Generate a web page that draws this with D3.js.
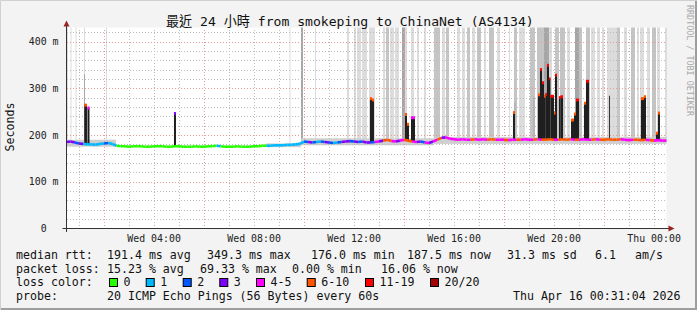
<!DOCTYPE html>
<html><head><meta charset="utf-8">
<script src="https://cdn.jsdelivr.net/npm/d3@7"></script>
<style>
html,body{margin:0;padding:0;background:#f3f3f3;}
svg{display:block;}
text{font-family:"DejaVu Sans Mono","Noto Sans CJK TC",monospace;white-space:pre;}
</style></head><body>
<svg id="c" width="697" height="310"></svg>
<script>
// ---- data (hours since Wed 00:00) ----
const startH = 0.517, endH = 24.517;          // Wed 00:31 -> Thu 00:31
const sampleStepH = 1/6;                        // 10 min samples
const medianMs = [
 185,186,184,182,181,180,180,179,181,182,183,181,177,
 176,176,175,176,176,176,175,175,176,176,176,175,175,176,176,175,175,175,176,175,175,176,176,
 177,
 176,175,175,175,176,175,175,175,176,176,177,
 177,177,178,178,178,179,179,180,181,
 186,185,184,185,186,185,184,183,184,185,186,187,186,185,186,
 184,184,185,186,188,190,187,186,188,190,188,186,185,186,184,183,186,190,194,195,192,191,190,191,190,190,191,190,191,190,191,190,190,190,189,190,
 190,190,191,190,190,191,190,190,191,190,190,191,190,191,190,190,191,190,190,191,190,190,191,190,190,191,190,189,190,190,189,190,189,188,189,188,188];
const lossIdx = [
 3,3,2,3,1,1,1,1,1,2,1,1,0,
 0,0,0,0,0,0,0,0,0,0,0,0,0,0,0,0,0,0,0,0,0,0,0,
 1,
 0,0,0,0,0,0,0,0,0,0,0,
 1,1,1,1,1,1,1,1,1,
 2,3,2,1,2,3,2,1,2,3,3,2,3,2,3,
 3,2,4,3,5,5,4,3,4,5,5,4,3,2,4,3,4,5,3,4,4,4,4,4,4,5,4,4,4,5,5,4,4,5,4,4,
 5,4,4,4,5,4,5,5,5,4,5,5,5,4,5,4,4,4,5,4,5,5,5,5,5,4,4,4,5,5,5,4,5,4,4,4,4];
const lossLabels = ["0","1","2","3","4-5","6-10","11-19","20/20"];
const lossColors = ["#26ff00","#00b8ff","#0059ff","#7e00ff","#ff00ff","#ff5500","#ff0000","#a00000"];
// full-height smoke bands [fromH, toH, shade]
const smokeBands = [
 [0.536,0.576,0],[0.676,0.716,0],[0.876,0.916,0],[1.216,1.256,0],[2.096,2.136,0],
 [9.436,9.476,0],[9.896,9.976,2],[10.456,10.496,0],[11.736,11.816,0],[12.016,12.096,0],
 [12.136,12.296,0],[12.336,12.536,0],[12.616,12.856,0],[13.176,13.256,0],[13.296,13.416,1],
 [13.456,13.616,0],[13.656,13.816,0],[13.936,14.056,2],[14.056,14.136,0],[14.296,14.416,0],
 [14.536,14.616,0],[14.816,14.896,0],[15.216,15.456,1],[15.536,15.656,0],[15.696,15.816,1],
 [16.136,16.256,0],[16.336,16.456,0],[16.536,16.656,1],[16.736,16.856,0],[16.936,17.096,1],
 [17.216,17.296,0],[17.416,17.616,1],[17.736,17.856,0],[18.216,18.256,0],[18.416,18.536,1],
 [18.616,18.856,0],[19.056,19.256,1],[19.336,19.616,1],[19.616,19.816,2],[19.816,19.936,0],
 [20.056,20.216,1],[20.256,20.456,1],[20.536,20.656,0],[20.856,21.016,2],[21.016,21.136,1],
 [21.296,21.456,1],[21.496,21.656,0],[21.736,21.856,0],[21.936,22.016,0],[22.136,22.296,0],
 [22.296,22.536,0],[22.536,22.656,1],[22.816,22.936,0],[23.096,23.256,1],[23.336,23.416,0],
 [23.456,23.616,0],[23.736,23.856,0],[23.936,24.096,1],[24.136,24.256,0],[24.456,24.536,0]];
const smokeShades = ["#dcdcdc","#c4c4c4","#a6a6a6"];
// smoke spread around median [fromH, toH, lowMs, highMs]
const smokeSpread = [[0.517,2.5,175,190],[8.5,9.9,174,182],[9.9,15.2,178,193],[15.2,24.517,181,196]];
// dark spikes [fromH, toH, topMs, lossIdx]
const spikes = [
 [1.228,1.336,265,5],[1.356,1.436,259,4],[4.816,4.896,247,3],
 [12.656,12.736,279,5],[12.736,12.816,276,5],[14.056,14.136,245,5],[14.136,14.216,224,5],
 [14.296,14.376,238,4],[14.376,14.456,238,4],
 [18.376,18.456,249,5],[19.376,19.456,287,5],[19.456,19.536,341,6],[19.536,19.616,313,6],
 [19.616,19.676,284,5],[19.676,19.736,288,6],[19.736,19.816,350,6],[19.816,19.876,321,6],
 [19.876,20.016,284,6],[20.016,20.056,248,5],[20.056,20.136,329,6],[20.216,20.276,281,6],
 [20.276,20.376,283,6],[20.696,20.816,233,5],[20.816,20.896,246,5],[20.896,21.016,276,6],
 [21.216,21.296,269,5],[21.296,21.416,316,6],[23.496,23.616,279,5],[23.616,23.696,283,5],
 [24.096,24.176,205,5],[24.176,24.256,248,5]];
// thin grey spikes [atH, topMs]
const thinSpikes = [[1.236,330],[18.456,271],[19.216,282],[22.236,284]];
const xTickHours = [4,8,12,16,20,24];
const xTickLabels = ["Wed 04:00","Wed 08:00","Wed 12:00","Wed 16:00","Wed 20:00","Thu 00:00"];
const yTickMs = [0,100,200,300,400];
const yTickLabels = ["0  ","100 m","200 m","300 m","400 m"];
const yMaxMs = 430;

// ---- drawing ----
const W = 697, H = 310;
const svg = d3.select("#c");
const x = d3.scaleLinear().domain([startH, endH]).range([66.5, 666.5]);
const y = d3.scaleLinear().domain([0, yMaxMs]).range([228.5, 27.5]);
const times = medianMs.map((_, i) => startH + i * sampleStepH);
const medAt = h => medianMs[Math.max(0, Math.min(medianMs.length - 1, Math.round((h - startH) / sampleStepH)))];

// frame
svg.append("rect").attr("width", W).attr("height", H).attr("fill", "#f3f3f3");
svg.append("path").attr("d", `M0.5,${H}V0.5H${W}`).attr("stroke", "#d0d0d0").attr("fill", "none");
svg.append("path").attr("d", `M1,${H-1}H${W-1}V1`).attr("stroke", "#9e9e9e").attr("stroke-width", 2).attr("fill", "none");

// canvas
svg.append("rect").attr("x", x(startH)).attr("y", y(yMaxMs)).attr("width", x(endH) - x(startH))
  .attr("height", y(0) - y(yMaxMs)).attr("fill", "#ffffff");

const plot = svg.append("g");
// smoke bands
plot.selectAll("rect.band").data(smokeBands).enter().append("rect")
  .attr("x", d => x(d[0])).attr("width", d => Math.max(1, x(d[1]) - x(d[0])))
  .attr("y", y(yMaxMs)).attr("height", d => y(medAt(d[0]) + 2) - y(yMaxMs))
  .attr("fill", d => smokeShades[d[2]]);
// smoke spread
plot.selectAll("rect.spread").data(smokeSpread).enter().append("rect")
  .attr("x", d => x(d[0])).attr("width", d => x(d[1]) - x(d[0]))
  .attr("y", d => y(d[3])).attr("height", d => y(d[2]) - y(d[3]))
  .attr("fill", "#cfcfcf");

// grid
const grid = svg.append("g").attr("shape-rendering", "crispEdges");
const minorY = d3.range(20, yMaxMs + 1, 20).filter(v => v % 100 !== 0);
const majorY = d3.range(100, yMaxMs + 1, 100);
const hourTicks = d3.range(1, 25);
const majorX = [2, 6, 10, 14, 18, 22];
grid.selectAll("line.my").data(minorY).enter().append("line")
  .attr("x1", x(startH)).attr("x2", x(endH)).attr("y1", d => Math.round(y(d)) + 0.5).attr("y2", d => Math.round(y(d)) + 0.5)
  .attr("stroke", "#bcbcbc").attr("stroke-dasharray", "1,2");
grid.selectAll("line.mx").data(hourTicks.filter(h => !majorX.includes(h))).enter().append("line")
  .attr("x1", d => Math.round(x(d)) + 0.5).attr("x2", d => Math.round(x(d)) + 0.5).attr("y1", y(0)).attr("y2", y(yMaxMs))
  .attr("stroke", "#bcbcbc").attr("stroke-dasharray", "1,2");
grid.selectAll("line.My").data(majorY).enter().append("line")
  .attr("x1", x(startH)).attr("x2", x(endH)).attr("y1", d => Math.round(y(d)) + 0.5).attr("y2", d => Math.round(y(d)) + 0.5)
  .attr("stroke", "#e89a9a").attr("stroke-dasharray", "1,2");
grid.selectAll("line.Mx").data(majorX).enter().append("line")
  .attr("x1", d => Math.round(x(d)) + 0.5).attr("x2", d => Math.round(x(d)) + 0.5).attr("y1", y(0)).attr("y2", y(yMaxMs))
  .attr("stroke", "#e89a9a").attr("stroke-dasharray", "1,2");

// thin spikes
svg.selectAll("line.thin").data(thinSpikes).enter().append("line")
  .attr("x1", d => x(d[0])).attr("x2", d => x(d[0]))
  .attr("y1", d => y(medAt(d[0]))).attr("y2", d => y(d[1]))
  .attr("stroke", (d, i) => i === 3 ? "#333" : "#a8a8a8").attr("stroke-width", 1);
// dark spikes
svg.selectAll("rect.spike").data(spikes).enter().append("rect")
  .attr("x", d => x(d[0])).attr("width", d => Math.max(1.2, x(d[1]) - x(d[0])))
  .attr("y", d => y(d[2])).attr("height", d => y(medAt(d[0])) - y(d[2]))
  .attr("fill", "#1e1e1e");

// median line coloured by loss
const segs = d3.range(medianMs.length - 1);
svg.append("g").selectAll("line").data(segs).enter().append("line")
  .attr("x1", i => x(times[i])).attr("x2", i => x(times[i + 1]))
  .attr("y1", i => y(medianMs[i])).attr("y2", i => y(medianMs[i + 1]))
  .attr("stroke", i => lossColors[lossIdx[i]]).attr("stroke-width", 2.6).attr("stroke-linecap", "butt");
// spike caps
svg.selectAll("rect.cap").data(spikes).enter().append("rect")
  .attr("x", d => x(d[0])).attr("width", d => Math.max(1.5, x(d[1]) - x(d[0])))
  .attr("y", d => y(d[2]) - 1).attr("height", 3)
  .attr("fill", d => lossColors[d[3]]);

// axes lines
const axc = "#333";
svg.append("line").attr("x1", 62.5).attr("x2", 669).attr("y1", 228.5).attr("y2", 228.5).attr("stroke", axc);
svg.append("line").attr("x1", 66.5).attr("x2", 66.5).attr("y1", 232).attr("y2", 24).attr("stroke", axc);
svg.append("path").attr("d", "M63.5,26.5L66.5,20.5L69.5,26.5Z").attr("fill", "#9b2222");
svg.append("path").attr("d", "M668.5,225.5L674.5,228.5L668.5,231.5Z").attr("fill", "#9b2222");

// tick labels
const xa = svg.append("g").attr("transform", "translate(0,228.5)")
  .call(d3.axisBottom(x).tickValues(xTickHours).tickFormat((d, i) => xTickLabels[i]).tickSize(0).tickPadding(6));
xa.select(".domain").remove();
xa.selectAll("text").attr("font-family", "DejaVu Sans Mono").attr("font-size", 9.9).attr("fill", "#222");
const ya = svg.append("g").attr("transform", "translate(66.5,0)")
  .call(d3.axisLeft(y).tickValues(yTickMs).tickFormat((d, i) => yTickLabels[i]).tickSize(0).tickPadding(8));
ya.select(".domain").remove();
ya.selectAll("text").attr("font-family", "DejaVu Sans Mono").attr("font-size", 9.9).attr("fill", "#222");

// titles
svg.append("text").attr("x", 166).attr("y", 25.5).attr("font-size", 13.1).attr("fill", "#111")
  .text("最近 24 小時 from smokeping to ChinaNet (AS4134)");
svg.append("text").attr("transform", "translate(14,127) rotate(-90)").attr("text-anchor", "middle")
  .attr("font-size", 11.6).attr("fill", "#111").text("Seconds");
svg.append("text").attr("transform", "translate(686.5,5) rotate(90)").attr("text-anchor", "start")
  .attr("font-size", 8.4).attr("fill", "#a8a8a8").text("RRDTOOL / TOBI OETIKER");

// legend
const lg = svg.append("g").attr("font-size", 11.6).attr("fill", "#111");
const rows = [
  [[16,"median rtt:"],[107,"191.4 ms avg"],[207,"349.3 ms max"],[311,"176.0 ms min"],[407,"187.5 ms now"],[507,"31.3 ms sd"],[595,"6.1"],[635,"am/s"]],
  [[16,"packet loss:"],[107,"15.23 % avg"],[200,"69.33 % max"],[292,"0.00 % min"],[381,"16.06 % now"]],
  [[16,"loss color:"]],
  [[16,"probe:"],[107,"20 ICMP Echo Pings (56 Bytes) every 60s"],[513,"Thu Apr 16 00:31:04 2026"]]
];
const rowY = [259, 272.5, 286, 300];
rows.forEach((r, ri) => r.forEach(([px, t]) => lg.append("text").attr("x", px).attr("y", rowY[ri]).text(t)));
const swX = [109, 145.7, 182.7, 219.3, 256, 306.7, 365, 430];
lossLabels.forEach((l, i) => {
  lg.append("rect").attr("x", swX[i] + 0.5).attr("y", 278.5).attr("width", 8).attr("height", 8)
    .attr("fill", lossColors[i]).attr("stroke", "#000").attr("stroke-width", 1);
  lg.append("text").attr("x", swX[i] + 14.5).attr("y", rowY[2]).text(l);
});
</script></body></html>
